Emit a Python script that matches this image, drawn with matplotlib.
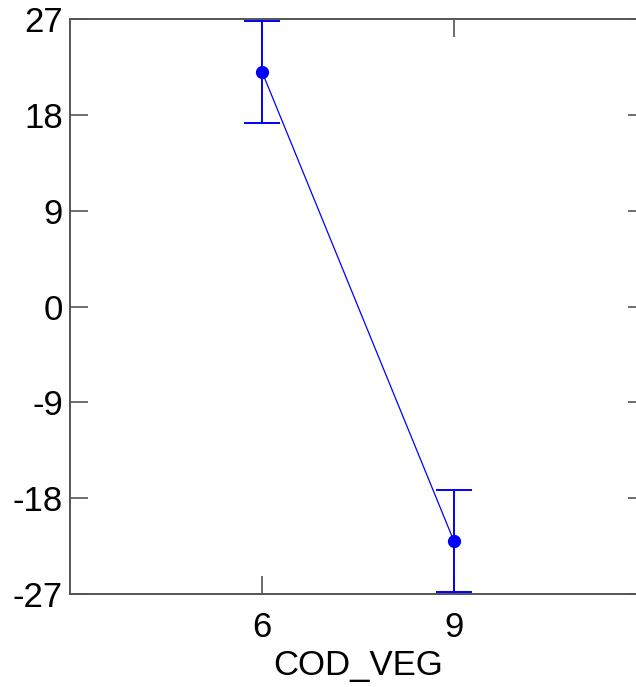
import matplotlib
matplotlib.use("Agg")
import matplotlib.pyplot as plt

# Group means with their error half-widths
cod_veg = [6, 9]
means = [22.05, -22.05]
errors = [4.8, 4.8]

x_ticks = [6, 9]
y_ticks = [-27, -18, -9, 0, 9, 18, 27]

plt.rcParams['font.family'] = ['Liberation Sans', 'DejaVu Sans']

W, H = 636, 687
fig = plt.figure(figsize=(W / 100, H / 100), dpi=100)
# square plot box that runs past the right edge of the canvas
left, bottom, size = 70, 93, 576
ax = fig.add_axes([left / W, bottom / H, size / W, 575 / H])

ax.errorbar(cod_veg, means, yerr=errors, fmt='none', ecolor='#0000ff',
            elinewidth=1.4, capsize=13, capthick=1.4, zorder=3)
ax.plot(cod_veg, means, color='#0000ff', linewidth=0.9, zorder=3)
ax.plot(cod_veg, means, 'o', color='#0000ff', markersize=8.5, zorder=4)

ax.set_xlim(3, 12)
ax.set_ylim(-27, 27)
ax.set_xticks(x_ticks)
ax.set_yticks(y_ticks)
ax.set_xticklabels([str(v) for v in x_ticks])
ax.set_yticklabels([str(v) for v in y_ticks])

for s in ax.spines.values():
    s.set_color('#555555')
    s.set_linewidth(1.4)

ax.tick_params(direction='in', length=13, width=1.2, color='#555555',
               top=True, right=True, labelsize=25)
ax.tick_params(axis='y', pad=5)
ax.tick_params(axis='x', pad=12)
ax.set_xlabel('COD_VEG', fontsize=25, labelpad=4)

fig.savefig('out.png', dpi=100)
